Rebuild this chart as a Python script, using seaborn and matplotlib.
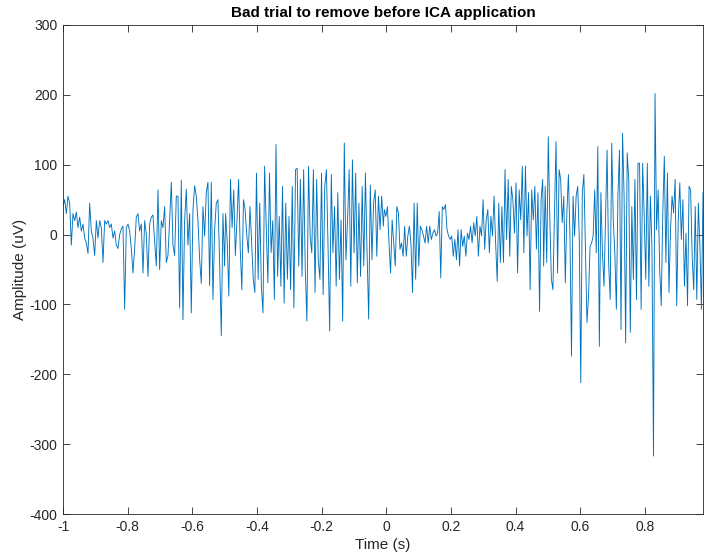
import numpy as np
import pandas as pd
import matplotlib
matplotlib.use("Agg")
import matplotlib.pyplot as plt
import seaborn as sns

# ---- data (amplitude in uV), four consecutive time segments ----
seg1_t = (-1.0, -0.50)
seg1_v = [40, 50, 30, 55, 45, -15, 30, 20, 32, 10, 25, 5, 15, -5, -12, -27, 45, 5, -5, -30,
          20, -5, 20, 10, -40, 20, 15, 20, 10, 15, -5, 5, -15, -20, 0, 8, 12, -107,
          10, 15, 5, -20, -55, -20, 25, 30, 5, 15, -55, 20, 0, -60, 15, 25, 28, -10, -45, 64,
          -50, 20, 10, 40, -40, -30, 20, 75, -15, -30, 55, 55, -105, 78, -122, 20, 65, -15,
          30, -112, 35, 70, 55, 20, -35, -70, 40, -2, 60, 75, -73, 75, -93, 7, 45, 50, -40,
          -145, 30, -45]

seg2_t = (-0.497, -0.009)
seg2_v = [30, -10, -88, 79, 10, 64, -30, 20, 79, -20, -79, 50, 36, 0, -26, 40, -10, -64, -83,
          88, -64, 45, -74, -112, 98, 10, -69, 88, -26, 20, -93, 129, -60, 26, -74, 69, -98,
          45, -64, 26, -79, 69, -105, 93, 95, -45, 79, -60, 93, -50, -124, 98, -2, -26, 93,
          -83, 79, -36, -64, 88, -86, 69, 93, -17, -138, 86, -26, 40, -74, 60, -64, 21, -124,
          131, -36, 21, 93, -74, 107, -26, 88, -69, 45, -60, 69, -45, 88, -26, -121, 71, -36,
          45, 64, -31, 55, 7, 55, 12]

seg3_t = (-0.006, 0.484)
seg3_v = [36, 26, 40, -12, -55, 21, -12, -45, 40, 31, -21, -12, -31, 12, -31, -2, 12, -12,
          -83, 45, -64, 45, -45, 12, 7, -2, -12, 12, -12, 12, -7, 2, 7, -2, 2, 33, -62, 40,
          36, 43, 7, -2, -7, -2, -31, -7, -36, 7, -45, 7, -17, -2, -31, 2, -7, 12, -12, 17,
          -2, 26, -31, 12, -2, 50, -21, 21, 36, -26, 26, -2, 55, -12, -67, 45, -40, 40, -40,
          93, -7, 79, -31, 69, 50, 2, 74, -55, 64, 21, 98, -26, 98, -2, 60, -79, 64, 21, 69,
          -21, 60, -110, 50, 79]

seg4_t = (0.487, 0.98)
seg4_v = [-45, 69, -40, 140, 21, -64, -79, 31, 133, -55, 93, 79, 17, 55, -69, 31, 86, -2,
          -174, 55, -2, 55, 69, -2, -212, 60, 86, -17, -126, -88, -17, -12, -2, 64, -26, 126,
          -160, 60, -26, -74, 21, 121, -40, -93, 131, 21, -26, -107, 55, 121, -136, 145, 55,
          -155, 117, 79, -140, 40, -64, 79, -93, 102, 102, -107, 102, 26, -64, 102, -74, 55,
          -17, -317, 202, 7, 64, -50, -102, 31, 112, -40, 88, -83, 7, 55, 31, 79, -102, 21,
          74, -7, 50, -74, 2, -102, 69, 64, -31, -79, 40, -93, 45, -17, -107, 60]

x_ticks = [-1, -0.8, -0.6, -0.4, -0.2, 0, 0.2, 0.4, 0.6, 0.8]
x_tick_labels = ["-1", "-0.8", "-0.6", "-0.4", "-0.2", "0", "0.2", "0.4", "0.6", "0.8"]
y_ticks = [-400, -300, -200, -100, 0, 100, 200, 300]
y_tick_labels = ["-400", "-300", "-200", "-100", "0", "100", "200", "300"]

title = "Bad trial to remove before ICA application"
xlabel = "Time (s)"
ylabel = "Amplitude (uV)"

# ---- assemble ----
frames = []
for (t0, t1), vals in [(seg1_t, seg1_v), (seg2_t, seg2_v), (seg3_t, seg3_v), (seg4_t, seg4_v)]:
    frames.append(pd.DataFrame({"time": np.linspace(t0, t1, len(vals)), "amp": vals}))
df = pd.concat(frames, ignore_index=True)

sns.set_style("white")
plt.rcParams["font.family"] = ["Liberation Sans", "DejaVu Sans"]

fig = plt.figure(figsize=(7.04, 5.59), dpi=100)
ax = fig.add_axes([63 / 704, 45 / 559, 640 / 704, 489 / 559])

sns.lineplot(data=df, x="time", y="amp", ax=ax, color="#0072BD", linewidth=0.65,
             sort=False, estimator=None)

ax.set_xlim(-1, 0.98)
ax.set_ylim(-400, 300)
ax.set_xticks(x_ticks)
ax.set_xticklabels(x_tick_labels)
ax.set_yticks(y_ticks)
ax.set_yticklabels(y_tick_labels)

edge = "#262626"
for s in ax.spines.values():
    s.set_visible(True)
    s.set_color(edge)
    s.set_linewidth(0.6)
ax.tick_params(direction="in", length=5, width=0.6, colors=edge, labelsize=10,
               top=True, right=True, bottom=True, left=True, pad=4)

ax.set_xlabel(xlabel, fontsize=11, color=edge, labelpad=3)
ax.set_ylabel(ylabel, fontsize=11, color=edge, labelpad=2)
ax.set_title(title, fontsize=11, fontweight="bold", color="black", pad=6)

fig.savefig("out.png", dpi=100)
